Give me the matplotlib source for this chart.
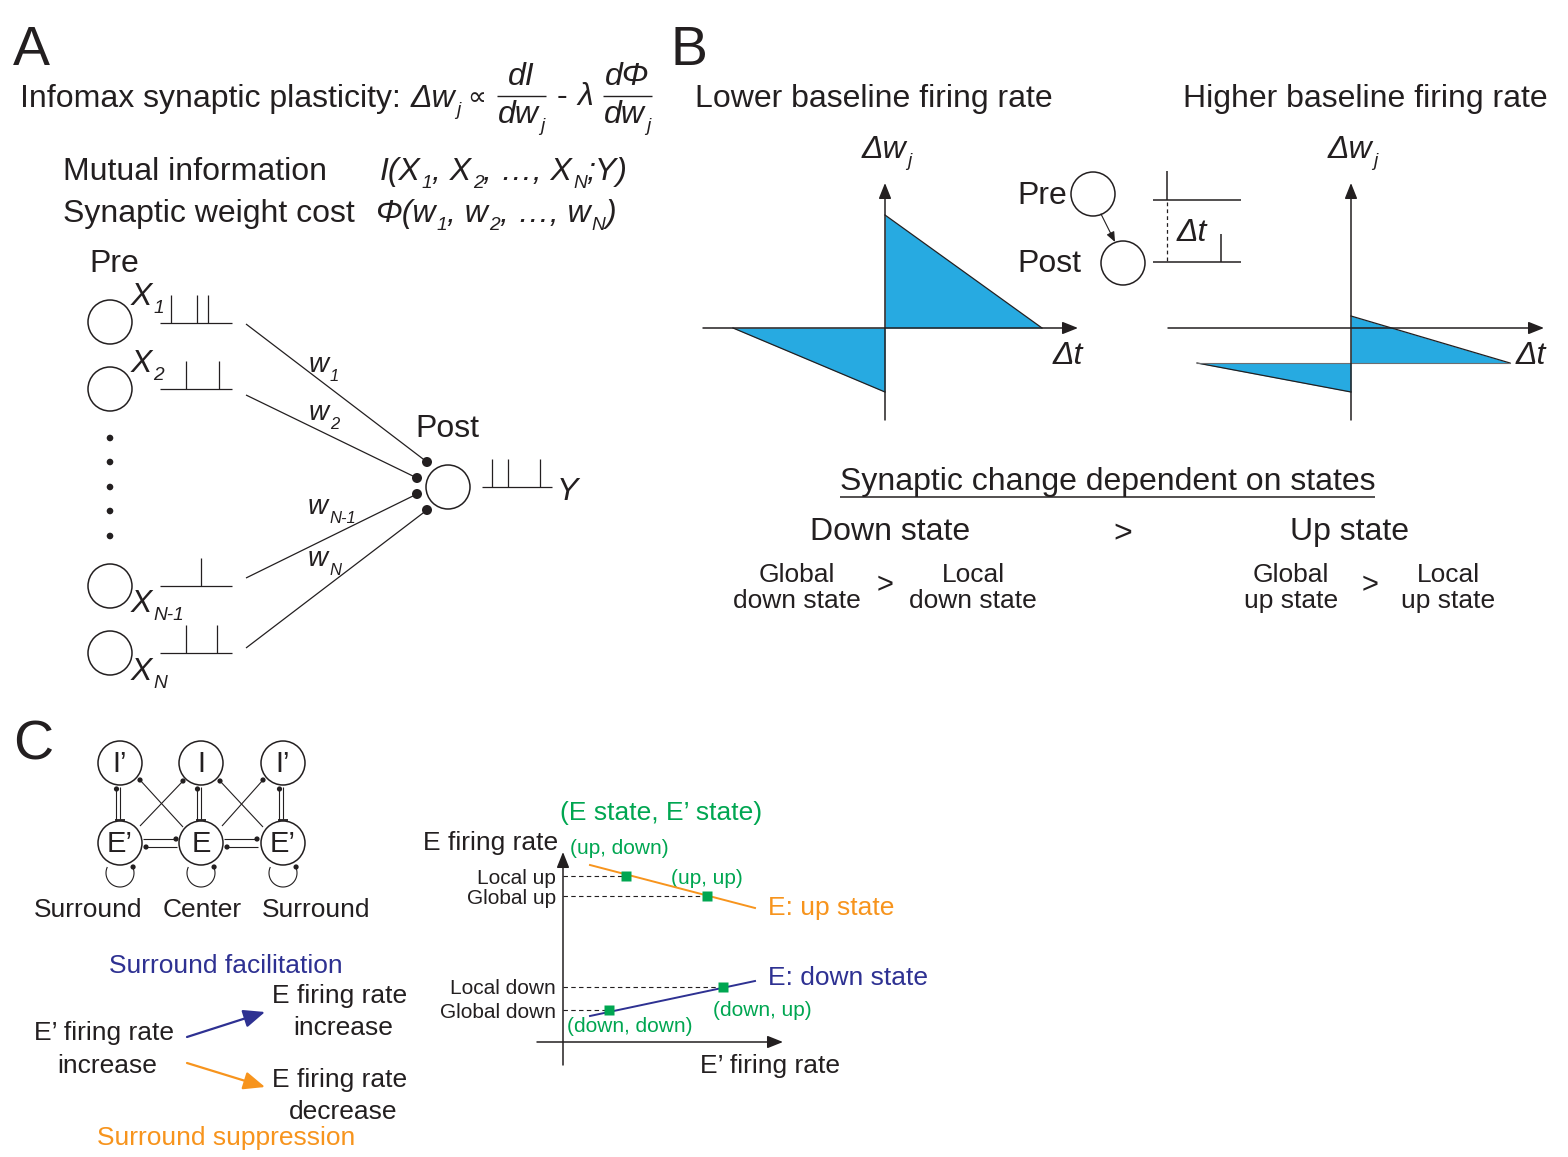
import matplotlib
matplotlib.use('Agg')
import matplotlib.pyplot as plt
from matplotlib.patches import Circle
import numpy as np

plt.rcParams['font.family'] = ['Liberation Sans', 'DejaVu Sans']

# ---------------- data ----------------
# Panel A: spike times inside each train window (arbitrary time units)
pre_spike_times = [[11, 37, 48], [26, 59], [41], [26, 57]]
post_spike_times = [10, 26, 58]
pre_subscripts = ['1', '2', 'N-1', 'N']
weight_subscripts = ['1', '2', 'N-1', 'N']

# Panel B: STDP windows (Δt, Δw) for lower / higher baseline firing rate
lower_dt = [-152, 0, 0, 157]
lower_dw = [0, -64, 113, 0]
lower_base = 0
higher_dt = [-154, 0, 0, 159]
higher_dw = [-35, -64, 12, -35]
higher_base = -35

# Panel C: E firing rate vs E' firing rate
eprime_line = [27, 192]
e_up_line = [177, 134]
e_down_line = [26, 61]
state_labels = ['(up, down)', '(up, up)', '(down, down)', '(down, up)']
state_eprime = [63, 144, 46, 160]
state_e = [166, 146, 32, 55]
ytick_vals = [32, 55, 146, 166]
ytick_labels = ['Global down', 'Local down', 'Global up', 'Local up']

# ---------------- style ----------------
BLACK = '#231F20'
CYAN = '#27AAE1'
ORANGE = '#F7941D'
NAVY = '#2E3192'
GREEN = '#00A651'
PT = 72 / 100.0

W, H = 1568, 1157
fig = plt.figure(figsize=(W / 100, H / 100), dpi=100)
ax = fig.add_axes([0, 0, 1, 1])
ax.set_xlim(0, W)
ax.set_ylim(H, 0)
ax.axis('off')
renderer = fig.canvas.get_renderer()


def rich(x, y, segs, size=23, color=BLACK, ha='left', sub_scale=0.6,
         sub_drop=0.26, sub_gap=1.0, target=None):
    target = target or ax
    em = size / PT
    placed = []
    cur = 0.0
    for seg in segs:
        if isinstance(seg, (int, float)):
            cur += seg
            continue
        s, st = seg
        sub = 's' in st
        sz = size * sub_scale if sub else size
        style = 'italic' if 'i' in st else 'normal'
        t = target.text(0, 0, s, fontsize=sz, fontstyle=style, color=color,
                        ha='left', va='baseline')
        w = t.get_window_extent(renderer).width
        if sub:
            cur += sub_gap
        placed.append((t, cur, em * sub_drop if sub else 0))
        cur += w
    off = {'left': 0, 'center': -cur / 2, 'right': -cur}[ha]
    for t, dx, dy in placed:
        t.set_position((x + off + dx, y + dy))
    return cur


def txt(x, y, s, size=23, color=BLACK, ha='left', va='baseline', style='normal'):
    ax.text(x, y, s, fontsize=size, color=color, ha=ha, va=va, fontstyle=style)


def circ(x, y, r=22, lw=1.1):
    ax.add_patch(Circle((x, y), r, fill=False, ec=BLACK, lw=lw))


def dot(x, y, r=3):
    ax.add_patch(Circle((x, y), r, fc=BLACK, ec='none'))


def line(x0, y0, x1, y1, lw=0.9, color=BLACK, **kw):
    ax.plot([x0, x1], [y0, y1], color=color, lw=lw, solid_capstyle='butt', **kw)


def arrow(a, x0, y0, x1, y1, color=BLACK, lw=1.1, hl=0.95, hw=0.38, ms=10):
    a.annotate('', xy=(x1, y1), xytext=(x0, y0),
               arrowprops=dict(arrowstyle=f'-|>,head_length={hl},head_width={hw}',
                               color=color, lw=lw, shrinkA=0, shrinkB=0,
                               mutation_scale=ms), annotation_clip=False)


def px_axes(x0, y0, x1, y1, ox, oy):
    a = fig.add_axes([x0 / W, 1 - y1 / H, (x1 - x0) / W, (y1 - y0) / H])
    a.set_xlim(x0 - ox, x1 - ox)
    a.set_ylim(oy - y1, oy - y0)
    a.axis('off')
    return a


# ======================= Panel A =======================
txt(13, 65, 'A', size=40)
w0 = rich(20, 107, [('Infomax synaptic plasticity:', 'n'), 10, ('Δw', 'i'), ('j', 'si')])
txt(467, 105, '∝', size=19)
rich(521, 85, [('dI', 'i')], ha='center')
line(497, 96, 546, 96, lw=1.0)
rich(521, 123, [('dw', 'i'), ('j', 'si')], ha='center')
txt(557, 105, '-', size=23)
txt(577, 105, 'λ', size=23, style='italic')
rich(627, 85, [('dΦ', 'i')], ha='center')
line(603, 96, 652, 96, lw=1.0)
rich(627, 123, [('dw', 'i'), ('j', 'si')], ha='center')

txt(63, 180, 'Mutual information')
rich(380, 180, [('I(X', 'i'), ('1', 'si'), (', X', 'i'), ('2', 'si'),
                (', …, X', 'i'), ('N', 'si'), (';Y)', 'i')])
txt(63, 222, 'Synaptic weight cost')
rich(375, 222, [('Φ(w', 'i'), ('1', 'si'), (', w', 'i'), ('2', 'si'),
                (', …, w', 'i'), ('N', 'si'), (')', 'i')])

txt(89, 272, 'Pre')
pre_y = [322, 389, 586, 653]
label_y = [305, 372, 612, 680]
train_y = [323, 389, 586, 653]
for cy, ly, ty, sub, spikes in zip(pre_y, label_y, train_y, pre_subscripts, pre_spike_times):
    circ(110, cy)
    rich(131, ly, [('X', 'i'), (sub, 'si')], size=23)
    line(160, ty, 232, ty)
    for s in spikes:
        line(160 + s, ty, 160 + s, ty - 28)
for dy in [438, 462, 487, 511, 536]:
    dot(110, dy, 3.3)

syn = [(427, 462), (417, 478), (417, 494), (427, 510)]
starts = [(246, 324), (246, 395), (246, 578), (246, 648)]
for (sx, sy), (ex, ey) in zip(starts, syn):
    line(sx, sy, ex, ey, lw=0.9)
    dot(ex, ey, 5)
wpos = [(309, 372), (309, 420), (308, 514), (308, 566)]
for (wx, wy), sub in zip(wpos, weight_subscripts):
    rich(wx, wy, [('w', 'i'), (sub, 'si')], size=20, sub_drop=0.32)

circ(448, 487)
txt(415, 437, 'Post')
line(482, 487, 552, 487)
for s in post_spike_times:
    line(482 + s, 487, 482 + s, 459)
txt(557, 500, 'Y', style='italic')

# ======================= Panel B =======================
txt(671, 65, 'B', size=40)
txt(695, 107, 'Lower baseline firing rate')
txt(1183, 107, 'Higher baseline firing rate')


def stdp(ox, dt, dw, base, x_left, x_right):
    a = px_axes(ox - 200, 170, ox + 210, 430, ox, 328)
    a.fill_between(dt[:2], dw[:2], base, color=CYAN, lw=0)
    a.fill_between(dt[2:], dw[2:], base, color=CYAN, lw=0)
    a.plot(dt[:2], dw[:2], color=BLACK, lw=0.9)
    a.plot(dt[2:], dw[2:], color=BLACK, lw=0.9)
    if base != 0:
        a.plot([dt[0], dt[-1]], [base, base], color='#6d6e71', lw=0.8)
    arrow(a, x_left, 0, x_right, 0)
    arrow(a, 0, -92, 0, 145)
    return a


stdp(885, lower_dt, lower_dw, lower_base, -182, 193)
stdp(1351, higher_dt, higher_dw, higher_base, -183, 193)
rich(862, 158, [('Δw', 'i'), ('j', 'si')])
rich(1328, 158, [('Δw', 'i'), ('j', 'si')])
rich(1053, 364, [('Δt', 'i')])
rich(1516, 364, [('Δt', 'i')])

# pre/post inset
txt(1017, 204, 'Pre')
txt(1017, 272, 'Post')
circ(1093, 194)
circ(1123, 263)
arrow(ax, 1101, 214, 1115, 242, lw=0.8, hl=0.6, hw=0.25)
line(1153, 200, 1241, 200, lw=1.1)
line(1167, 200, 1167, 171, lw=1.1)
line(1153, 262, 1241, 262, lw=1.1)
line(1221, 262, 1221, 234, lw=1.1)
ax.plot([1167, 1167], [202, 262], color=BLACK, lw=0.9, ls=(0, (3, 2.5)))
rich(1177, 241, [('Δt', 'i')])

txt(1108, 490, 'Synaptic change dependent on states', ha='center')
line(840, 497, 1375, 497, lw=1.1)
txt(890, 540, 'Down state', ha='center')
txt(1123, 542, '>', ha='center')
txt(1350, 540, 'Up state', ha='center')
for cx, l1, l2 in [(797, 'Global', 'down state'), (973, 'Local', 'down state'),
                   (1291, 'Global', 'up state'), (1448, 'Local', 'up state')]:
    txt(cx, 582, l1, size=19, ha='center')
    txt(cx, 608, l2, size=19, ha='center')
txt(885, 593, '>', size=21, ha='center')
txt(1370, 593, '>', size=21, ha='center')

# ======================= Panel C =======================
txt(13, 760, 'C', size=40)
net_x = [120, 201, 283]
IY, EY = 763, 843
for x, lab in zip(net_x, ['I’', 'I', 'I’']):
    circ(x, IY)
    txt(x, IY + 1, lab, size=21, ha='center', va='center')
for x, lab in zip(net_x, ['E’', 'E', 'E’']):
    circ(x, EY)
    txt(x, EY + 1, lab, size=21, ha='center', va='center')
    # vertical pair E->I (dot) and I-|E (bar)
    line(x - 3.5, 789, x - 3.5, 820, lw=0.8)
    dot(x - 3.5, 789, 2.6)
    line(x + 0.5, 787, x + 0.5, 819, lw=0.8)
    line(x - 4.5, 819.5, x + 5.5, 819.5, lw=1.3)
    # self loop
    th = np.radians(np.linspace(203, -21, 60))
    lx = x + 14 * np.cos(th)
    ly = 873 + 14 * np.sin(th)
    ax.plot(lx, ly, color=BLACK, lw=0.8)
    dot(lx[-1], ly[-1] - 1, 2.6)
# cross connections (dot at I end)
for (x0, y0, x1, y1) in [(140, 826, 183, 781), (183, 827, 140, 780),
                         (222, 826, 263, 780), (263, 827, 220, 781)]:
    line(x0, y0, x1, y1, lw=0.8)
    dot(x1, y1, 2.6)
# horizontal pairs
for (a0, a1) in [(143, 177), (224, 258)]:
    line(a0, 839, a1, 839, lw=0.8)
    dot(a1 - 1, 839, 2.6)
    line(a0 + 2, 847, a1, 847, lw=0.8)
    dot(a0 + 3, 847, 2.6)

txt(88, 917, 'Surround', size=19, ha='center')
txt(202, 917, 'Center', size=19, ha='center')
txt(316, 917, 'Surround', size=19, ha='center')

txt(226, 973, 'Surround facilitation', size=19, ha='center', color=NAVY)
txt(104, 1040, 'E’ firing rate', size=19, ha='center')
txt(107, 1073, 'increase', size=19, ha='center')
txt(340, 1003, 'E firing rate', size=19, ha='center')
txt(343, 1035, 'increase', size=19, ha='center')
txt(340, 1087, 'E firing rate', size=19, ha='center')
txt(343, 1119, 'decrease', size=19, ha='center')
txt(226, 1145, 'Surround suppression', size=19, ha='center', color=ORANGE)
arrow(ax, 187, 1037, 265, 1012, color=NAVY, lw=1.6, hl=1.3, hw=0.55)
arrow(ax, 187, 1063, 265, 1087, color=ORANGE, lw=1.6, hl=1.3, hw=0.55)

# line chart
ca = px_axes(563, 840, 800, 1070, 563, 1042)
ca.axis('on')
for sp in ca.spines.values():
    sp.set_visible(False)
ca.set_xticks([])
ca.set_yticks(ytick_vals)
ca.set_yticklabels(ytick_labels, fontsize=15, color=BLACK)
ca.tick_params(axis='y', length=0, pad=5)
ca.patch.set_alpha(0)
arrow(ca, -26, 0, 220, 0, lw=1.1)
arrow(ca, 0, -23, 0, 190, lw=1.1)
ca.plot(eprime_line, e_up_line, color=ORANGE, lw=1.4)
ca.plot(eprime_line, e_down_line, color=NAVY, lw=1.4)
ca.hlines(state_e, 0, state_eprime, colors=BLACK, lw=0.8, linestyles=(0, (4, 3)))
ca.plot(state_eprime, state_e, 's', color=GREEN, ms=7.5, mec='none')

txt(661, 820, '(E state, E’ state)', size=19, ha='center', color=GREEN)
txt(423, 850, 'E firing rate', size=19)
txt(700, 1073, 'E’ firing rate', size=19)
label_pos = [(570, 848), (671, 878), (567, 1027), (713, 1010)]
for (lx_, ly_), s in zip(label_pos, state_labels):
    txt(lx_, ly_, s, size=15, color=GREEN, va='center')
txt(768, 908, 'E: up state', size=19, color=ORANGE, va='center')
txt(768, 978, 'E: down state', size=19, color=NAVY, va='center')

fig.savefig('out.png', dpi=100)
